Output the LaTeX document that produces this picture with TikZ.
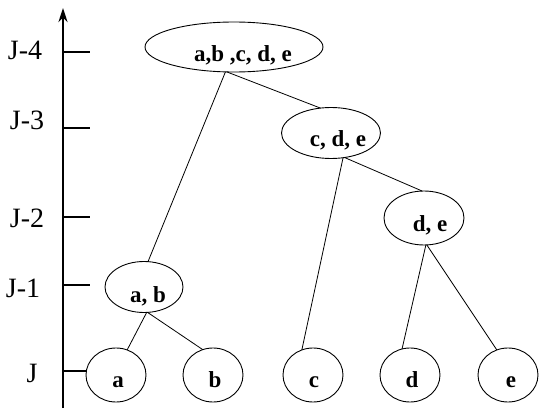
\documentclass[tikz,border=0pt]{standalone}
\usepackage{fontspec}
\setmainfont{Liberation Serif}
\usetikzlibrary{shapes.geometric,arrows.meta}
\begin{document}
\begin{tikzpicture}[x=1pt,y=-1pt,
  ell/.style={draw, ellipse, inner sep=0pt, outer sep=0pt, line width=0.9pt},
  leaf/.style={ell, minimum width=60pt, minimum height=54pt},
  nlbl/.style={anchor=base, font=\fontsize{23}{23}\selectfont\bfseries, inner sep=0pt},
  axlbl/.style={anchor=base, font=\fontsize{28}{28}\selectfont, inner sep=0pt},
  edge/.style={line width=0.8pt},
  tickline/.style={line width=1.2pt}]
\useasboundingbox (0,0) rectangle (550,420);
% axis
\coordinate (axbot) at (63,408);
\coordinate (axtop) at (63,8);
\draw[line width=2.6pt, -{Stealth[length=14pt,width=9pt]}] (axbot) -- (axtop);
% nodes
\node[ell, minimum width=178pt, minimum height=50pt] (abcde) at (234,47) {};
\node[ell, minimum width=99pt, minimum height=51pt] (cde) at (331,133) {};
\node[ell, minimum width=80pt, minimum height=54pt] (de) at (424,218) {};
\node[ell, minimum width=78pt, minimum height=51pt] (ab) at (144,287) {};
\node[leaf] (a) at (116,375) {};
\node[leaf] (b) at (213,375) {};
\node[leaf] (c) at (313,375) {};
\node[leaf] (d) at (410,375) {};
\node[leaf] (e) at (508,375) {};
% node texts
\node[nlbl] (abcdeT) at ([xshift=9pt,yshift=-15pt]abcde.center) {a,b ,c, d, e};
\node[nlbl] (cdeT) at ([xshift=7pt,yshift=-14pt]cde.center) {c, d, e};
\node[nlbl] (deT) at ([xshift=6pt,yshift=-14pt]de.center) {d, e};
\node[nlbl] (abT) at ([xshift=4pt,yshift=-15pt]ab.center) {a, b};
\node[nlbl] (aT) at ([xshift=2pt,yshift=-12pt]a.center) {a};
\node[nlbl] (bT) at ([xshift=2pt,yshift=-12pt]b.center) {b};
\node[nlbl] (cT) at ([xshift=1pt,yshift=-12pt]c.center) {c};
\node[nlbl] (dT) at ([xshift=2pt,yshift=-12pt]d.center) {d};
\node[nlbl] (eT) at ([xshift=3pt,yshift=-12pt]e.center) {e};
% edges
\draw[edge] (abcde.251) -- (ab.81);
\draw[edge] (abcde.254) -- (cde.113);
\draw[edge] (cde.-64) -- (c.114);
\draw[edge] (cde.-61) -- (de.94);
\draw[edge] (de.-86) -- (d.107);
\draw[edge] (de.-84) -- (e.114);
\draw[edge] (ab.-84) -- (a.66);
\draw[edge] (ab.-82) -- (b.112);
% ticks
\coordinate (t4) at (63,52);
\coordinate (t3) at (63,128);
\coordinate (t2) at (63,217);
\coordinate (t1) at (63,285);
\coordinate (t0) at (63,371);
\draw[tickline] (t4) -- ++(27,0);
\draw[tickline] (t3) -- ++(27,0);
\draw[tickline] (t2) -- ++(27,0);
\draw[tickline] (t1) -- ++(27,0);
\draw[tickline] (t0) -- (t0 -| a.west);
% axis labels
\node[axlbl] (l4) at (25,60) {J-4};
\node[axlbl] (l3) at (27,130) {J-3};
\node[axlbl] (l2) at (27,227) {J-2};
\node[axlbl] (l1) at (23,298) {J-1};
\node[axlbl] (l0) at (32,382) {J};
\end{tikzpicture}
\end{document}
